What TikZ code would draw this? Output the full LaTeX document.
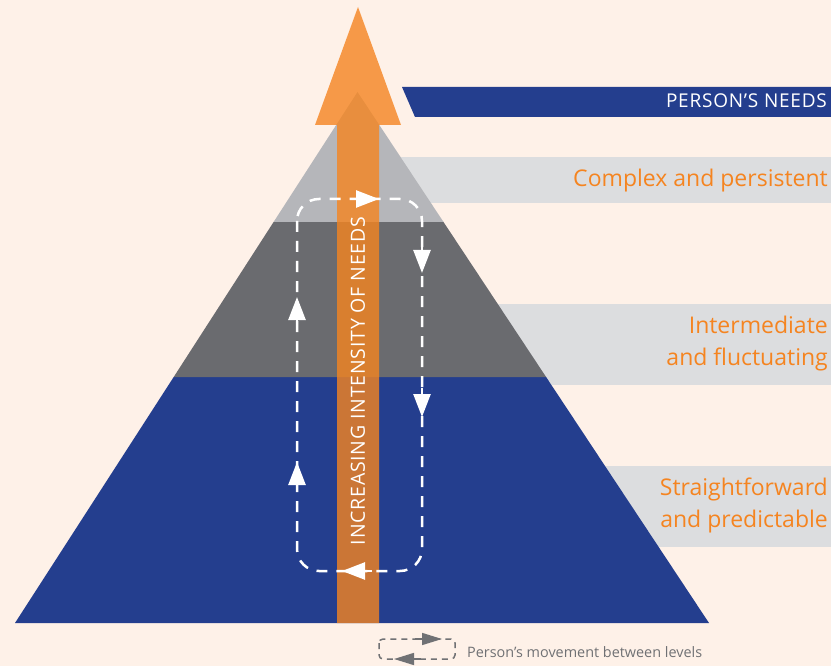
\documentclass[tikz,border=0pt]{standalone}
\usepackage{fontspec}
\setmainfont{Open Sans}
\usepackage{tikz}
\usetikzlibrary{arrows.meta}
\definecolor{creambg}{RGB}{254,241,232}
\definecolor{needsnavy}{RGB}{36,62,142}
\definecolor{darklevel}{RGB}{106,107,111}
\definecolor{lightlevel}{RGB}{181,182,186}
\definecolor{bargrey}{RGB}{220,221,223}
\definecolor{needsorange}{RGB}{245,132,32}
\definecolor{legendgrey}{RGB}{112,113,116}

\begin{document}
\begin{tikzpicture}[x=1pt,y=-1pt,
  loopline/.style={white,line width=2.5pt,dash pattern=on 11pt off 9pt},
  looptip/.style={white,line width=2.5pt,-{Triangle[length=23pt,width=17pt]}},
  legendline/.style={legendgrey,line width=1.5pt,dash pattern=on 6pt off 5pt},
  legendtip/.style={legendgrey,line width=1.5pt,-{Triangle[length=20pt,width=12pt]}},
  capslabel/.style={white,font=\fontsize{19.5}{22}\selectfont\addfontfeature{LetterSpace=4}},
  levellabel/.style={needsorange,font=\fontsize{23}{27}\selectfont,anchor=base east}]
\tikzstyle{every node}+=[inner sep=0pt]
\useasboundingbox (0,0) rectangle (831,666);
\fill [creambg] (0,0) rectangle (831,666);
\fill [needsnavy] (402,87) -- (831,87) -- (831,117) -- (415,117) -- cycle;
\fill [bargrey] (360,157) rectangle (831,203);
\fill [bargrey] (360,304) rectangle (831,385);
\fill [bargrey] (360,466) rectangle (831,547);
\fill [needsnavy] (15,623) -- (709,623) -- (546.1,377) -- (173.7,377) -- cycle;
\fill [darklevel] (173.7,377) -- (546.1,377) -- (443.5,222) -- (273.6,222) -- cycle;
\fill [lightlevel] (273.6,222) -- (443.5,222) -- (357.5,92) -- cycle;
\fill [needsorange,fill opacity=0.8] (358,7) -- (401,125) -- (379,125) -- (379,623)
  -- (337,623) -- (337,125) -- (315,125) -- cycle;
\draw [loopline,rounded corners=22pt] (297,199) rectangle (422,571);
\draw [looptip] (350,199) -- (379,199);
\draw [looptip] (422,246) -- (422,273);
\draw [looptip] (422,388) -- (422,417);
\draw [looptip] (372,571) -- (342,571);
\draw [looptip] (297,326) -- (297,297);
\draw [looptip] (297,491) -- (297,462);
\node [capslabel,rotate=90] (intensity) at (358,381) {INCREASING INTENSITY OF NEEDS};
\node [capslabel,font=\fontsize{19}{22}\selectfont\addfontfeature{LetterSpace=4},anchor=base east] (needs) at (827,108) {PERSON’S NEEDS};
\node [levellabel] (complex) at (828,187) {Complex and persistent};
\node [levellabel] (interA) at (828,334) {Intermediate};
\node [levellabel] (interB) at (828,365) {and fluctuating};
\node [levellabel] (straightA) at (828,495) {Straightforward};
\node [levellabel] (straightB) at (828,527) {and predictable};
\draw [legendline,rounded corners=4pt] (379,639) rectangle (455,659);
\draw [legendtip] (415,639) -- (442,639);
\draw [legendtip] (421,659) -- (394,659);
\node [legendgrey,font=\fontsize{14.4}{17}\selectfont,anchor=base west] (legend) at (467,657) {Person’s movement between levels};
\end{tikzpicture}
\end{document}
